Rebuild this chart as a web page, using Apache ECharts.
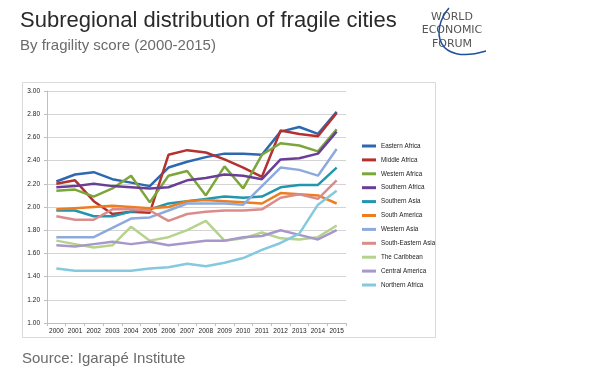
<!DOCTYPE html>
<html>
<head>
<meta charset="utf-8">
<script src="https://cdn.jsdelivr.net/npm/echarts@6/dist/echarts.min.js"></script>
<style>
html,body{margin:0;padding:0;background:#fff;}
#chart{width:602px;height:385px;}
</style>
</head>
<body>
<div id="chart"></div>
<script>
var years = ['2000','2001','2002','2003','2004','2005','2006','2007','2008','2009','2010','2011','2012','2013','2014','2015'];
var yTicks = [1.0, 3.0, 0.2]; // min, max, step

var easternAfrica     = [2.22,2.28,2.30,2.24,2.21,2.18,2.34,2.39,2.43,2.46,2.46,2.45,2.65,2.69,2.63,2.82];
var middleAfrica      = [2.20,2.23,2.05,1.94,1.96,1.95,2.45,2.49,2.47,2.41,2.34,2.26,2.66,2.63,2.61,2.81];
var westernAfrica     = [2.14,2.15,2.09,2.16,2.27,2.04,2.27,2.31,2.10,2.35,2.16,2.45,2.55,2.53,2.48,2.67];
var southernAfrica    = [2.17,2.18,2.20,2.18,2.17,2.16,2.17,2.23,2.25,2.28,2.27,2.24,2.41,2.42,2.46,2.65];
var southernAsia      = [1.97,1.97,1.92,1.92,1.96,1.98,2.03,2.05,2.07,2.09,2.08,2.09,2.17,2.19,2.19,2.34];
var southAmerica      = [1.98,1.99,2.00,2.01,2.00,1.99,2.00,2.05,2.06,2.05,2.04,2.03,2.12,2.11,2.10,2.03];
var westernAsia       = [1.74,1.74,1.74,1.82,1.90,1.91,1.97,2.03,2.03,2.03,2.02,2.18,2.34,2.32,2.27,2.50];
var southEasternAsia  = [1.92,1.89,1.89,1.98,1.98,1.97,1.88,1.94,1.96,1.97,1.97,1.98,2.08,2.11,2.07,2.23];
var caribbean         = [1.71,1.68,1.65,1.67,1.83,1.71,1.74,1.80,1.88,1.71,1.73,1.78,1.73,1.72,1.74,1.84];
var centralAmerica    = [1.67,1.66,1.68,1.70,1.68,1.70,1.67,1.69,1.71,1.71,1.74,1.75,1.80,1.76,1.72,1.80];
var northernAfrica    = [1.47,1.45,1.45,1.45,1.45,1.47,1.48,1.51,1.49,1.52,1.56,1.63,1.69,1.77,2.02,2.14];

var seriesNames = ['Eastern Africa','Middle Africa','Western Africa','Southern Africa','Southern Asia','South America','Western Asia','South-Eastern Asia','The Caribbean','Central America','Northern Africa'];
var seriesData = [easternAfrica,middleAfrica,westernAfrica,southernAfrica,southernAsia,southAmerica,westernAsia,southEasternAsia,caribbean,centralAmerica,northernAfrica];
var colors = ['#2E68B0','#B3312E','#7CA63A','#6A3E97','#2196AE','#EE7D22','#8EAADC','#DA8C8B','#B6D38D','#A897CB','#84C9DD'];

var chart = echarts.init(document.getElementById('chart'), null, {renderer:'canvas'});

var series = seriesNames.map(function(n,i){
  return {
    name:n, type:'line', data:seriesData[i], symbol:'none', smooth:false,
    lineStyle:{width:2.5,color:colors[i]}, itemStyle:{color:colors[i]},
    emphasis:{disabled:true}, animation:false
  };
});

chart.setOption({
  animation:false,
  color:colors,
  textStyle:{fontFamily:'Liberation Sans'},
  grid:{left:47, right:256, top:91, bottom:62, containLabel:false},
  xAxis:{
    type:'category', data:years, boundaryGap:true,
    axisLine:{lineStyle:{color:'#BFBFBF',width:1}},
    axisTick:{show:true,length:3,alignWithLabel:false,lineStyle:{color:'#BFBFBF'}},
    axisLabel:{color:'#222',fontSize:6.5,margin:5,interval:0,fontFamily:'Liberation Sans'}
  },
  yAxis:{
    type:'value', min:yTicks[0], max:yTicks[1], interval:yTicks[2],
    axisLine:{show:true,lineStyle:{color:'#BFBFBF',width:1}},
    axisTick:{show:true,length:3,lineStyle:{color:'#BFBFBF'}},
    axisLabel:{color:'#222',fontSize:6.5,margin:7,fontFamily:'Liberation Sans',formatter:function(v){return v.toFixed(2);}},
    splitLine:{lineStyle:{color:'#D4D4D4',width:1.2}}
  },
  legend:{
    orient:'vertical', left:357, top:137,
    icon:'rect', itemWidth:14, itemHeight:3, itemGap:5.9,
    textStyle:{fontSize:6.3,color:'#222',lineHeight:8,fontFamily:'Liberation Sans'},
    data:seriesNames
  },
  graphic:[
    {type:'rect', shape:{x:22.5,y:82.5,width:413,height:255}, style:{fill:'none',stroke:'#D9D9D9',lineWidth:1}, silent:true, z:-1},
    {type:'text', left:20, top:10, style:{text:'Subregional distribution of fragile cities', font:'22px "Liberation Sans"', fill:'#2A2A2A'}},
    {type:'text', left:20, top:38, style:{text:'By fragility score (2000-2015)', font:'15px "Liberation Sans"', fill:'#6B6B6B'}},
    {type:'text', left:22, top:351, style:{text:'Source: Igarapé Institute', font:'15px "Liberation Sans"', fill:'#6B6B6B'}},
    {type:'text', x:452, y:12, style:{text:'WORLD', font:'11px "DejaVu Sans"', fill:'#555', align:'center'}},
    {type:'text', x:452, y:25, style:{text:'ECONOMIC', font:'11px "DejaVu Sans"', fill:'#555', align:'center'}},
    {type:'text', x:452, y:39, style:{text:'FORUM', font:'11px "DejaVu Sans"', fill:'#555', align:'center'}},
    {type:'bezierCurve', shape:{x1:449,y1:8,cpx1:430,cpy1:30,cpx2:436,cpy2:66,x2:486,y2:51}, style:{stroke:'#1F4F9E',lineWidth:1.5,fill:'none'}}
  ],
  series:series
});
</script>
</body>
</html>
